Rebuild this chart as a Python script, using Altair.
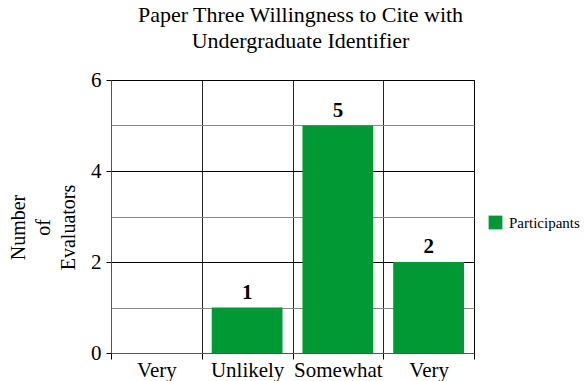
import altair as alt
import pandas as pd

categories = ["Very Unlikely", "Unlikely", "Somewhat Likely", "Very Likely"]
values = [0, 1, 5, 2]
series = ["Participants"] * 4

df = pd.DataFrame({"cat": categories, "val": values, "series": series})

FONT = "Liberation Serif"

base = alt.Chart(df).encode(
    x=alt.X("cat:N", sort=categories,
            scale=alt.Scale(paddingInner=0, paddingOuter=0),
            axis=alt.Axis(title=None, labelExpr="split(datum.label, ' ')[0]",
                          labelAngle=0, labelFont=FONT, labelFontSize=21,
                          labelColor="black", labelPadding=0,
                          bandPosition=0, grid=True, gridColor="black",
                          gridOpacity=0.85, tickColor="black", tickSize=6,
                          tickBand="extent",
                          domainColor="#555")),
)

bars = base.mark_bar(color="#009933", width={"band": 0.78}).encode(
    y=alt.Y("val:Q", scale=alt.Scale(domain=[0, 6]),
            axis=alt.Axis(values=[0, 1, 2, 3, 4, 5, 6],
                          labelExpr="datum.value % 2 ? '' : datum.label",
                          title=["Number", "of", "Evaluators"],
                          titleFont=FONT, titleFontSize=20, titleFontWeight="normal",
                          titleColor="black", titlePadding=12, titleLineHeight=25,
                          titleY=147,
                          labelFont=FONT, labelFontSize=21, labelColor="black",
                          labelPadding=5,
                          grid=True,
                          gridColor={"condition": {"test": "datum.value % 2", "value": "#888"}, "value": "black"},
                          tickOpacity={"condition": {"test": "datum.value % 2", "value": 0}, "value": 1},
                          tickColor="black", tickSize=5, domainColor="#555")),
    fill=alt.Fill("series:N", scale=alt.Scale(range=["#009933"]),
                  legend=alt.Legend(title=None, orient="none", legendX=377, legendY=135,
                                    symbolType="square", symbolSize=190,
                                    symbolStrokeWidth=0, labelFont=FONT,
                                    labelFontSize=15, labelColor="black",
                                    labelOffset=6, padding=0)),
)

labels = base.mark_text(font=FONT, fontSize=21, fontWeight="bold", baseline="bottom",
                        dy=-5, color="black").encode(
    y=alt.Y("val:Q"),
    text=alt.Text("val:Q"),
).transform_filter("datum.val > 0")

chart = alt.layer(bars, labels).properties(
    width=363, height=273,
    title=alt.TitleParams(["Paper Three Willingness to Cite with", "Undergraduate Identifier"],
                          font=FONT, fontSize=22, fontWeight="normal", color="black",
                          lineHeight=26, offset=16, dx=8),
    autosize=alt.AutoSizeParams(type="none"),
    padding={"left": 111, "top": 80, "right": 110, "bottom": 28},
).configure_view(stroke="#333", strokeWidth=1)

chart.save("out.html", embed_options={"renderer": "svg", "actions": False})
